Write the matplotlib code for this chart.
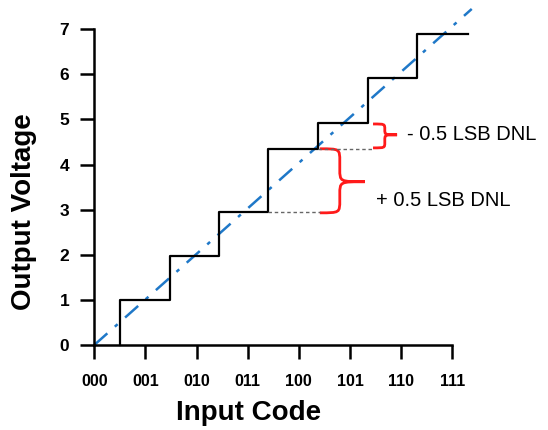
import matplotlib
matplotlib.use('Agg')
import matplotlib.pyplot as plt
from matplotlib.path import Path
from matplotlib.patches import PathPatch

plt.rcParams['font.family'] = ['Liberation Sans', 'DejaVu Sans']

# Data
codes = ['000', '001', '010', '011', '100', '101', '110', '111']
volts = [0, 1, 2, 3, 4, 5, 6, 7]
step_x = [0.5, 0.5, 1.49, 2.44, 3.39, 4.37, 5.35, 6.3, 7.3]
step_y = [0.0, 1.0, 1.98, 2.95, 4.35, 4.93, 5.91, 6.9, 6.9]
ideal_x = [0, 7.38]
ideal_y = [0, 7.45]

# DNL annotations: dashed reference lines and braces
dash_lo = (3.39, 4.41, 2.95)
dash_hi = (4.37, 5.45, 4.35)
brace_lo = (4.41, 4.80, 5.29, 4.35, 2.93, 3.62, 0.28)
brace_hi = (5.45, 5.68, 5.92, 4.90, 4.37, 4.66, 0.12)


def brace(ax, x0, xv, xt, ytop, ybot, ym, r):
    verts = [(x0, ytop), (xv, ytop), (xv, ytop), (xv, ytop - r),
             (xv, ym + r),
             (xv, ym), (xv, ym), (xt, ym),
             (xv, ym), (xv, ym), (xv, ym - r),
             (xv, ybot + r),
             (xv, ybot), (xv, ybot), (x0, ybot)]
    codes_ = [Path.MOVETO, Path.CURVE4, Path.CURVE4, Path.CURVE4,
              Path.LINETO,
              Path.CURVE4, Path.CURVE4, Path.CURVE4,
              Path.CURVE4, Path.CURVE4, Path.CURVE4,
              Path.LINETO,
              Path.CURVE4, Path.CURVE4, Path.CURVE4]
    ax.add_patch(PathPatch(Path(verts, codes_), fill=False, color='#ff1a1a',
                           lw=2, clip_on=False))


fig = plt.figure(figsize=(5.48, 4.3), dpi=100)
ax = fig.add_axes([68.7 / 548, 76 / 430, 414.3 / 548, 351.8 / 430])

# spines first: moving a spine resets the tick settings
for s in ['top', 'right']:
    ax.spines[s].set_visible(False)
for s in ['left', 'bottom']:
    ax.spines[s].set_position(('data', 0))
    ax.spines[s].set_bounds(0, 7)
    ax.spines[s].set_linewidth(1.8)

ax.plot(ideal_x, ideal_y, color='#1f78c8', lw=1.8, ls=(0, (7, 4, 1.5, 4)), clip_on=False)
ax.step(step_x, step_y, where='post', color='black', lw=1.6, clip_on=False)

for x0, x1, y in (dash_lo, dash_hi):
    ax.plot([x0, x1], [y, y], color='#666666', lw=1, ls=(0, (2.5, 2)))

brace(ax, *brace_lo)
brace(ax, *brace_hi)

ax.text(6.11, 4.66, '- 0.5 LSB DNL', fontsize=14.5, ha='left', va='center')
ax.text(5.51, 3.21, '+ 0.5 LSB DNL', fontsize=14.5, ha='left', va='center')

ax.set_xlim(-0.5, 7.6)
ax.set_ylim(-0.2, 7.6)
ax.set_xticks(range(len(codes)))
ax.set_xticklabels(codes, fontweight='bold', fontsize=11.5)
ax.set_yticks(volts)
ax.set_yticklabels([str(v) for v in volts], fontweight='bold', fontsize=12.5)

ax.tick_params(axis='both', direction='out', length=10, width=1.8)
ax.tick_params(axis='x', pad=11)
ax.tick_params(axis='y', pad=8)

ax.set_xlabel('Input Code', fontsize=20, fontweight='bold', va='center')
ax.xaxis.set_label_coords(0.434, -0.168)
ax.set_ylabel('Output Voltage', fontsize=20, fontweight='bold', va='center')
ax.yaxis.set_label_coords(-0.108, 0.404)

fig.savefig('out.png', dpi=100)
